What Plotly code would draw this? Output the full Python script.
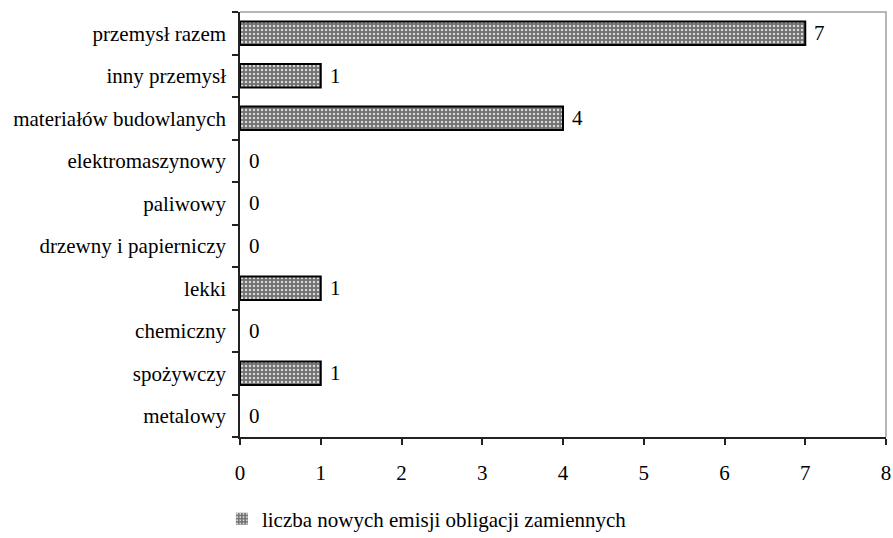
import plotly.graph_objects as go

# Branches listed bottom-to-top as they appear on the category axis
branze = [
    "metalowy",
    "spożywczy",
    "chemiczny",
    "lekki",
    "drzewny i papierniczy",
    "paliwowy",
    "elektromaszynowy",
    "materiałów budowlanych",
    "inny przemysł",
    "przemysł razem",
]
liczba_emisji = [0, 1, 0, 1, 0, 0, 0, 4, 1, 7]
x_ticks = [0, 1, 2, 3, 4, 5, 6, 7, 8]
seria = "liczba nowych emisji obligacji zamiennych"

FONT = "Liberation Serif, Times New Roman, serif"
FS = 21

fig = go.Figure()
fig.add_trace(go.Bar(
    y=branze,
    x=liczba_emisji,
    orientation="h",
    name=seria,
    marker=dict(
        color="#707070",
        # empty bars get no outline so nothing is drawn for a zero
        line=dict(color="#000000", width=[2 if v > 0 else 0 for v in liczba_emisji]),
        pattern=dict(shape=".", fgcolor="#d8d8d8", bgcolor="#707070",
                     size=4, solidity=0.3, fillmode="replace"),
    ),
    showlegend=True,
))

# value labels just past the end of each bar
for cat, val in zip(branze, liczba_emisji):
    fig.add_annotation(x=val, y=cat, text=str(val), showarrow=False,
                       xanchor="left", xshift=7, yshift=0,
                       font=dict(family=FONT, size=FS, color="#000"))

# light frame on the top and right of the plot area
fig.add_shape(type="path", xref="paper", yref="paper",
              path="M 0,1 L 1,1 L 1,0", line=dict(color="#a0a0a0", width=1.5),
              layer="below")

fig.update_layout(
    width=893, height=538,
    margin=dict(l=240, r=7, t=12, b=101, autoexpand=False),
    paper_bgcolor="white", plot_bgcolor="white",
    font=dict(family=FONT, size=FS, color="#000"),
    bargap=0.45,
    xaxis=dict(
        range=[0, 8], tickvals=x_ticks, ticktext=[str(t) for t in x_ticks],
        showgrid=False, zeroline=False, automargin=False,
        showline=True, linecolor="#222", linewidth=1.5,
        ticks="outside", ticklen=6, tickcolor="#222", tickwidth=1.5,
        ticklabelstandoff=10,
        tickfont=dict(family=FONT, size=FS),
    ),
    yaxis=dict(
        type="category", categoryorder="array", categoryarray=branze,
        showgrid=False, zeroline=False, automargin=False,
        showline=True, linecolor="#222", linewidth=1.5,
        ticks="outside", ticklen=6, tickcolor="#222", tickwidth=1.5,
        tickson="boundaries", ticklabelstandoff=8,
        tickfont=dict(family=FONT, size=FS),
    ),
    legend=dict(
        orientation="h", x=-0.028, xanchor="left", y=-0.193, yanchor="middle",
        font=dict(family=FONT, size=FS), itemwidth=30,
        bgcolor="rgba(0,0,0,0)",
    ),
)

fig.write_html("out.html")
